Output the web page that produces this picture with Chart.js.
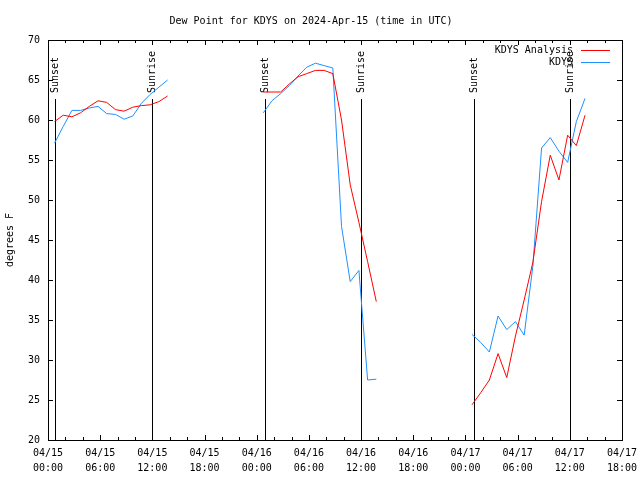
<!DOCTYPE html>
<html>
<head>
<meta charset="utf-8">
<script src="https://cdn.jsdelivr.net/npm/chart.js@4"></script>
<style>
  html, body { margin: 0; padding: 0; background: #fff; }
  canvas { display: block; }
</style>
</head>
<body>
<canvas id="dewChart" width="640" height="480"></canvas>
<script>
// hours after 04/15 00:00 UTC
const obsHours = [0.75, 1.75, 2.75, 3.75, 4.75, 5.75, 6.75, 7.75, 8.75, 9.75, 10.75, 11.75, 12.75, 13.75,
  24.75, 25.75, 26.75, 27.75, 28.75, 29.75, 30.75, 31.75, 32.75, 33.75, 34.75, 35.75, 36.75, 37.75,
  48.75, 49.75, 50.75, 51.75, 52.75, 53.75, 54.75, 55.75, 56.75, 57.75, 58.75, 59.75, 60.75, 61.75];

const analysisDew = [59.8, 60.6, 60.4, 60.9, 61.7, 62.4, 62.2, 61.3, 61.1, 61.6, 61.8, 61.9, 62.3, 63.0,
  63.5, 63.5, 63.5, 64.5, 65.4, 65.8, 66.2, 66.2, 65.8, 60.0, 51.9, 47.2, 42.3, 37.3,
  24.4, 25.9, 27.5, 30.8, 27.8, 33.0, 37.5, 42.2, 49.8, 55.6, 52.5, 58.1, 56.8, 60.6];

const observedDew = [57.1, 59.2, 61.2, 61.2, 61.5, 61.7, 60.8, 60.7, 60.1, 60.5, 62.1, 63.2, 64.1, 65.0,
  60.9, 62.4, 63.3, 64.3, 65.5, 66.6, 67.1, 66.8, 66.5, 46.7, 39.8, 41.2, 27.5, 27.6,
  33.2, 32.2, 31.0, 35.5, 33.8, 34.8, 33.1, 41.7, 56.5, 57.8, 56.1, 54.7, 59.8, 62.7];

const sunLabels = ['Sunset', 'Sunrise', 'Sunset', 'Sunrise', 'Sunset', 'Sunrise'];
const sunHours = [0.85, 12.0, 24.95, 36.0, 49.0, 60.0];

const seriesNames = ['KDYS Analysis', 'KDYS'];
const seriesColors = ['#ff0000', '#1e90ff'];

const FONT = { family: '"DejaVu Sans Mono", monospace', size: 10 };

// break the line where there is no data between nights
function toPoints(vals) {
  const pts = [];
  for (let i = 0; i < vals.length; i++) {
    if (i > 0 && obsHours[i] - obsHours[i - 1] > 2) {
      pts.push({ x: (obsHours[i] + obsHours[i - 1]) / 2, y: null });
    }
    pts.push({ x: obsHours[i], y: vals[i] });
  }
  return pts;
}

function crisp(v) { return Math.round(v) + 0.5; }

// box, inward ticks on all four sides
const framePlugin = {
  id: 'frame',
  afterDatasetsDraw(chart) {
    const { ctx, chartArea: a, scales } = chart;
    ctx.save();
    ctx.strokeStyle = '#000';
    ctx.lineWidth = 1;
    ctx.beginPath();
    for (let h = 0; h <= 66; h += 2) {
      const x = crisp(scales.x.getPixelForValue(h));
      const len = h % 6 === 0 ? 5 : 3;
      ctx.moveTo(x, a.bottom); ctx.lineTo(x, a.bottom - len);
      ctx.moveTo(x, a.top); ctx.lineTo(x, a.top + len);
    }
    scales.y.ticks.forEach(t => {
      const y = crisp(scales.y.getPixelForValue(t.value));
      ctx.moveTo(a.left, y); ctx.lineTo(a.left + 5, y);
      ctx.moveTo(a.right, y); ctx.lineTo(a.right - 5, y);
    });
    ctx.stroke();
    ctx.strokeRect(crisp(a.left), crisp(a.top), Math.round(a.right - a.left), Math.round(a.bottom - a.top));
    ctx.restore();
  }
};

// sunrise / sunset markers
const sunPlugin = {
  id: 'sun',
  beforeDatasetsDraw(chart) {
    const { ctx, chartArea: a, scales } = chart;
    ctx.save();
    ctx.strokeStyle = '#000';
    ctx.fillStyle = '#000';
    ctx.lineWidth = 1;
    ctx.font = '10px "DejaVu Sans Mono", monospace';
    sunHours.forEach((h, i) => {
      const x = crisp(scales.x.getPixelForValue(h));
      ctx.beginPath();
      ctx.moveTo(x, a.top + 59);
      ctx.lineTo(x, a.bottom);
      ctx.stroke();
      ctx.save();
      ctx.translate(x, a.top + 53);
      ctx.rotate(-Math.PI / 2);
      ctx.textAlign = 'left';
      ctx.textBaseline = 'middle';
      ctx.fillText(sunLabels[i], 0, 0);
      ctx.restore();
    });
    ctx.restore();
  }
};

// gnuplot style key, top right inside the plot
const keyPlugin = {
  id: 'key',
  afterDraw(chart) {
    const { ctx, chartArea: a } = chart;
    ctx.save();
    ctx.font = '10px "DejaVu Sans Mono", monospace';
    ctx.fillStyle = '#000';
    ctx.textAlign = 'right';
    ctx.textBaseline = 'middle';
    chart.data.datasets.forEach((ds, i) => {
      const y = Math.round(a.top + 10 + i * 12) + 0.5;
      ctx.fillText(ds.label, a.right - 49, y);
      ctx.strokeStyle = ds.borderColor;
      ctx.lineWidth = 1;
      ctx.beginPath();
      ctx.moveTo(a.right - 41, y);
      ctx.lineTo(a.right - 12, y);
      ctx.stroke();
    });
    ctx.restore();
  }
};

const ctx = document.getElementById('dewChart').getContext('2d');

const dewChart = new Chart(ctx, {
  type: 'line',
  data: {
    datasets: [{
      label: seriesNames[0],
      data: toPoints(analysisDew),
      borderColor: seriesColors[0],
      borderWidth: 1,
      pointRadius: 0,
      tension: 0,
      spanGaps: false
    }, {
      label: seriesNames[1],
      data: toPoints(observedDew),
      borderColor: seriesColors[1],
      borderWidth: 1,
      pointRadius: 0,
      tension: 0,
      spanGaps: false
    }]
  },
  options: {
    responsive: false,
    animation: false,
    layout: { padding: { left: 0, right: 18, top: 0, bottom: 0 } },
    plugins: {
      legend: { display: false },
      tooltip: { enabled: false },
      title: {
        display: true,
        text: 'Dew Point for KDYS on 2024-Apr-15 (time in UTC)',
        color: '#000',
        font: { family: FONT.family, size: 10, weight: 'normal' },
        padding: { top: 15, bottom: 13 }
      }
    },
    scales: {
      x: {
        type: 'linear',
        min: 0,
        max: 66,
        grid: { display: false },
        border: { display: false },
        ticks: {
          stepSize: 6,
          autoSkip: false,
          maxRotation: 0,
          color: '#000',
          font: { family: FONT.family, size: 10, lineHeight: 1.5 },
          padding: -2,
          callback: v => {
            const day = 15 + Math.floor(v / 24);
            const hr = v % 24;
            return ['04/' + day, String(hr).padStart(2, '0') + ':00'];
          }
        },
        afterFit: s => { s.height = 40; }
      },
      y: {
        min: 20,
        max: 70,
        grid: { display: false },
        border: { display: false },
        ticks: {
          stepSize: 5,
          color: '#000',
          font: FONT,
          padding: 0
        },
        title: {
          display: true,
          text: 'degrees F',
          color: '#000',
          font: FONT,
          padding: { top: 4, bottom: 0 }
        },
        afterFit: s => { s.width = 48; }
      }
    }
  },
  plugins: [sunPlugin, framePlugin, keyPlugin]
});
</script>
</body>
</html>
